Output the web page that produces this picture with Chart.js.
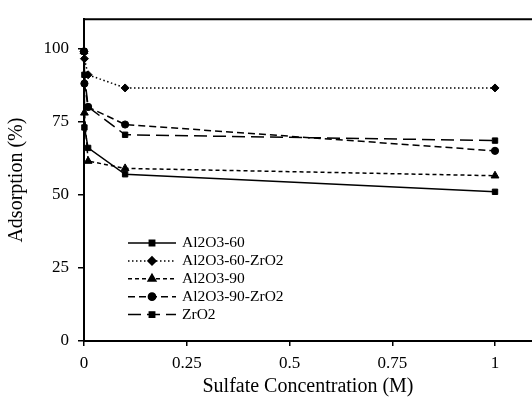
<!DOCTYPE html>
<html><head><meta charset="utf-8">
<script src="https://cdn.jsdelivr.net/npm/chart.js@4"></script>
<style>html,body{margin:0;padding:0;background:#fff}canvas{display:block}</style>
</head><body>
<canvas id="c" width="532" height="407"></canvas>
<script>
// ---- data ----
const concentrations = [0, 0.001, 0.01, 0.1, 1];
const seriesNames = ["Al2O3-60", "Al2O3-60-ZrO2", "Al2O3-90", "Al2O3-90-ZrO2", "ZrO2"];
const al2o3_60      = [99, 73, 66, 57, 51];
const al2o3_60_zro2 = [99, 96.5, 91, 86.5, 86.5];
const al2o3_90      = [99, 78, 61.5, 59, 56.5];
const al2o3_90_zro2 = [99, 88, 80, 74, 65];
const zro2          = [99, 91, 80, 70.5, 68.5];
const xTickValues = [0, 0.25, 0.5, 0.75, 1];
const yTickValues = [0, 25, 50, 75, 100];

const seriesValues = [al2o3_60, al2o3_60_zro2, al2o3_90, al2o3_90_zro2, zro2];
const styles = [
  {dash: [], point: 'rect', r: 3.8},
  {dash: [1.5, 2.5], point: 'rectRot', r: 4},
  {dash: [4, 3], point: 'triangle', r: 4.5},
  {dash: [7, 4], point: 'circle', r: 3.6},
  {dash: [13, 6], point: 'rect', r: 3.8}
];

const datasets = seriesNames.map((name, i) => ({
  label: name,
  data: concentrations.map((x, j) => ({x: x, y: seriesValues[i][j]})),
  showLine: true,
  borderColor: '#000',
  backgroundColor: '#000',
  borderWidth: 1.5,
  borderDash: styles[i].dash,
  pointStyle: styles[i].point,
  pointRadius: styles[i].r,
  pointHoverRadius: styles[i].r,
  pointBorderWidth: 1,
  tension: 0,
  clip: false
}));

const serif = '"Liberation Serif", "Times New Roman", serif';

const framePlugin = {
  id: 'frame',
  afterDraw(chart) {
    const {ctx, chartArea} = chart;
    ctx.save();
    ctx.strokeStyle = '#000';
    ctx.lineWidth = 2;
    ctx.beginPath();
    ctx.moveTo(chartArea.left, chartArea.top);
    ctx.lineTo(chart.width, chartArea.top);
    ctx.stroke();
    // legend
    const rowY0 = 243, rowGap = 17.9;
    chart.data.datasets.forEach((ds, i) => {
      const y = rowY0 + i * rowGap;
      ctx.setLineDash(ds.borderDash);
      ctx.lineWidth = 1.5;
      ctx.beginPath();
      ctx.moveTo(128, y);
      ctx.lineTo(176, y);
      ctx.stroke();
      ctx.setLineDash([]);
      Chart.helpers.drawPoint(ctx, {pointStyle: ds.pointStyle, radius: ds.pointRadius, borderWidth: 1, rotation: 0}, 152, y);
      ctx.fillStyle = '#000';
      ctx.fill();
      ctx.font = '15.5px ' + serif;
      ctx.textBaseline = 'middle';
      ctx.textAlign = 'left';
      ctx.fillText(ds.label, 182, y);
    });
    ctx.restore();
  }
};

new Chart(document.getElementById('c'), {
  type: 'scatter',
  data: {datasets},
  options: {
    responsive: false,
    animation: false,
    layout: {autoPadding: false, padding: {top: 13, right: 0, left: 0, bottom: 0}},
    plugins: {legend: {display: false}, tooltip: {enabled: false}},
    scales: {
      x: {
        type: 'linear',
        min: 0, max: 1.09,
        afterBuildTicks: (s) => { s.ticks = xTickValues.map(v => ({value: v})); },
        afterFit: (s) => { s.height = 66; s.paddingRight = 0; s.paddingLeft = 0; },
        ticks: {color: '#000', font: {family: serif, size: 17}, padding: 7,
                callback: (v) => String(v)},
        grid: {drawOnChartArea: false, drawTicks: true, tickLength: 5, color: '#000', lineWidth: 1.5},
        border: {color: '#000', width: 2},
        title: {display: true, text: 'Sulfate Concentration (M)', color: '#000',
                font: {family: serif, size: 20}, padding: {top: 4, bottom: 8}}
      },
      y: {
        type: 'linear',
        min: 0, max: 110,
        afterBuildTicks: (s) => { s.ticks = yTickValues.map(v => ({value: v})); },
        afterFit: (s) => { s.width = 84; },
        ticks: {color: '#000', font: {family: serif, size: 17}, padding: 9},
        grid: {drawOnChartArea: false, drawTicks: true, tickLength: 6, color: '#000', lineWidth: 1.5},
        border: {color: '#000', width: 2},
        title: {display: true, text: 'Adsorption (%)', color: '#000',
                font: {family: serif, size: 20}, padding: {top: 5, bottom: 4}}
      }
    }
  },
  plugins: [framePlugin]
});
</script>
</body></html>
